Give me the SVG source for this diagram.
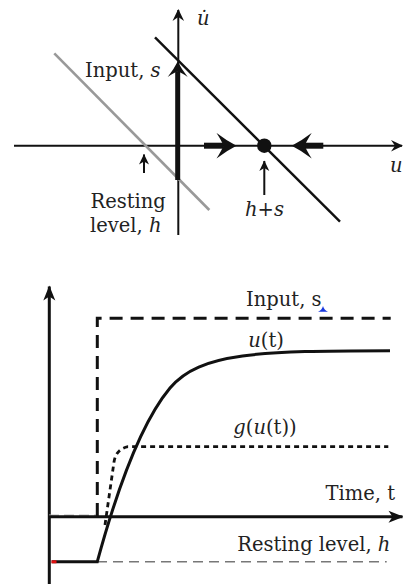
<svg xmlns="http://www.w3.org/2000/svg" width="403" height="584" viewBox="0 0 403 584">
<style>
text{font-family:"DejaVu Serif","Liberation Serif",serif;font-size:19.5px;fill:#222}
.it{font-style:italic}
.ax{stroke:#111;stroke-width:2;fill:none}
.ax3{stroke:#111;stroke-width:3;fill:none}
</style>
<defs>
<marker id="axA" viewBox="-12 -7 14 14" refX="0" refY="0" markerWidth="14" markerHeight="14" markerUnits="userSpaceOnUse" orient="auto">
<path d="M1,0 L-11,-5.8 L-7,0 L-11,5.8 Z" fill="#111"/>
</marker>
<marker id="axB" viewBox="-15 -8 17 16" refX="0" refY="0" markerWidth="17" markerHeight="16" markerUnits="userSpaceOnUse" orient="auto">
<path d="M1,0 L-14,-6 L-10,0 L-14,6 Z" fill="#111"/>
</marker>
<marker id="ptr" viewBox="-11 -6 12 12" refX="0" refY="0" markerWidth="12" markerHeight="12" markerUnits="userSpaceOnUse" orient="auto">
<path d="M0.5,0 L-10,-5 L-7,0 L-10,5 Z" fill="#111"/>
</marker>
<marker id="big" viewBox="-8 -13 22 26" refX="0" refY="0" markerWidth="22" markerHeight="26" markerUnits="userSpaceOnUse" orient="auto">
<path d="M13,0 Q3,-5 -7,-12.8 Q-2,-5 0,0 Q-2,5 -7,12.8 Q3,5 13,0 Z" fill="#111"/>
</marker>
<marker id="med" viewBox="-7 -11 18 22" refX="0" refY="0" markerWidth="18" markerHeight="22" markerUnits="userSpaceOnUse" orient="auto">
<path d="M10,0 Q2,-4 -5.5,-10 Q-1,-4 0,0 Q-1,4 -5.5,10 Q2,4 10,0 Z" fill="#111"/>
</marker>
</defs>

<g id="connectors">
<!-- top phase plot -->
<line class="ax" x1="14" y1="145.7" x2="402" y2="145.7" marker-end="url(#axA)"/>
<line class="ax" x1="178.3" y1="235" x2="178.3" y2="10" marker-end="url(#axA)"/>
<line x1="54.3" y1="53.3" x2="209.3" y2="210" stroke="#999" stroke-width="2.6"/>
<line x1="155" y1="37.3" x2="340" y2="221.7" stroke="#111" stroke-width="2.4"/>
<line x1="177.7" y1="180" x2="177.7" y2="71.5" stroke="#111" stroke-width="5" marker-end="url(#med)"/>
<line x1="204" y1="145.7" x2="223.5" y2="145.7" stroke="#111" stroke-width="6" marker-end="url(#big)"/>
<line x1="323.3" y1="145.7" x2="304.7" y2="145.7" stroke="#111" stroke-width="6" marker-end="url(#big)"/>
<line class="ax" x1="144" y1="173" x2="144" y2="154.5" marker-end="url(#ptr)"/>
<line class="ax" x1="264.3" y1="195" x2="264.3" y2="161" marker-end="url(#ptr)"/>

<!-- bottom time plot -->
<line class="ax3" x1="49.3" y1="584" x2="49.3" y2="286.5" marker-end="url(#axB)"/>
<line x1="49" y1="515.7" x2="97" y2="515.7" stroke="#bbb" stroke-width="2.5" stroke-dasharray="10 5"/>
<line class="ax3" x1="49" y1="516.7" x2="402.5" y2="516.7" marker-end="url(#axB)"/>
<line x1="97" y1="561.7" x2="386.7" y2="561.7" stroke="#777" stroke-width="1.5" stroke-dasharray="10 6"/>
<path d="M97.3,516 L97.3,318.3 L390.7,318.3" fill="none" stroke="#111" stroke-width="3" stroke-dasharray="13 8"/>
<path d="M105,525 L114,462 Q116,449 128,446.7 L388.3,446.7" fill="none" stroke="#111" stroke-width="2.8" stroke-dasharray="5 4"/>
<path d="M51.7,561.7 L97.3,561.7 C110,515 135,430 170,388 C200,352 260,351 390,350.7" fill="none" stroke="#111" stroke-width="3"/>
</g>

<g id="fixed-point"><circle cx="264.3" cy="145.7" r="7.2" fill="#111"/></g>
<g id="red-mark"><rect x="51.5" y="560.3" width="5" height="3" fill="#e01010"/></g>
<g id="blue-mark"><path d="M318,311.7 Q322,310 323,306 Q324,310 328,311.7 Z" fill="#1a3adf"/></g>

<g id="labels-top">
<text x="197" y="25" class="it">u&#x307;</text>
<text x="85" y="76.7">Input, <tspan class="it">s</tspan></text>
<text x="90.5" y="208">Resting</text>
<text x="90" y="231.5">level, <tspan class="it">h</tspan></text>
<text x="245" y="215.5"><tspan class="it">h</tspan>+<tspan class="it">s</tspan></text>
<text x="390" y="172" class="it">u</text>
</g>
<g id="labels-bottom">
<text x="246" y="306">Input, s</text>
<text x="248.3" y="347.3"><tspan class="it">u</tspan>(t)</text>
<text x="233.3" y="434"><tspan class="it">g</tspan>(<tspan class="it">u</tspan>(t))</text>
<text x="395" y="500" text-anchor="end">Time, t</text>
<text x="237.3" y="550.7">Resting level, <tspan class="it">h</tspan></text>
</g>
</svg>
